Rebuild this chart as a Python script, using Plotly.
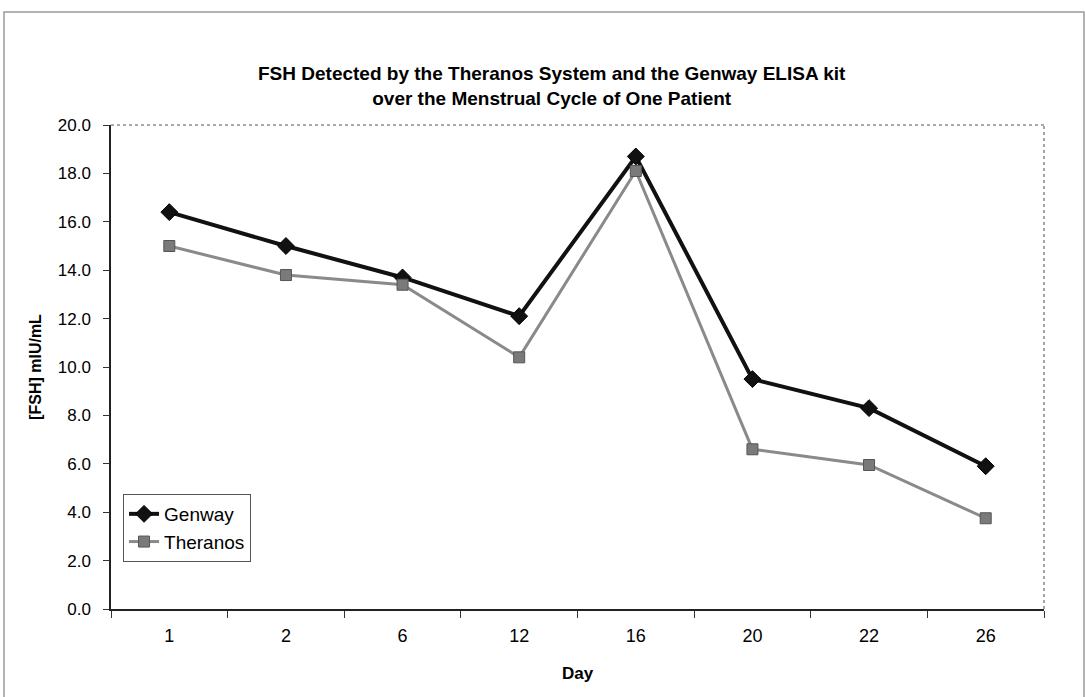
import plotly.graph_objects as go

days = ["1", "2", "6", "12", "16", "20", "22", "26"]
genway = [16.4, 15.0, 13.7, 12.1, 18.7, 9.5, 8.3, 5.9]
theranos = [15.0, 13.8, 13.4, 10.4, 18.1, 6.6, 5.95, 3.75]
y_ticks = [0, 2, 4, 6, 8, 10, 12, 14, 16, 18, 20]

FONT = "Liberation Sans, Arial, sans-serif"

fig = go.Figure()
fig.add_trace(go.Scatter(
    x=days, y=genway, name="Genway", mode="lines+markers",
    line=dict(color="#111111", width=4),
    marker=dict(symbol="diamond", size=13, color="#111111", line=dict(color="#000000", width=1)),
))
fig.add_trace(go.Scatter(
    x=days, y=theranos, name="Theranos", mode="lines+markers",
    line=dict(color="#8a8a8a", width=3),
    marker=dict(symbol="square", size=11, color="#7a7a7a", line=dict(color="#555555", width=1)),
))

fig.update_layout(
    width=1085, height=697,
    margin=dict(l=111, r=41, t=125, b=88),
    paper_bgcolor="white", plot_bgcolor="white",
    font=dict(family=FONT, size=17, color="#000000"),
    showlegend=True,
    legend=dict(x=0.0129, y=0.2376, xanchor="left", yanchor="top",
                bgcolor="white", bordercolor="#555555", borderwidth=1,
                font=dict(size=19), itemwidth=30),
    xaxis=dict(
        type="category", range=[-0.5, 7.5], tickson="boundaries",
        ticks="outside", ticklen=7, tickcolor="#333333",
        showline=True, linecolor="#222222", linewidth=1.5,
        showgrid=False, zeroline=False,
        tickfont=dict(size=18), ticklabelstandoff=10,
        title=dict(text="<b>Day</b>", font=dict(size=17), standoff=22),
    ),
    yaxis=dict(
        range=[0, 20], tickvals=y_ticks,
        ticktext=[f"{v:.1f}" for v in y_ticks],
        ticks="outside", ticklen=6, tickcolor="#333333",
        showline=True, linecolor="#222222", linewidth=1.5,
        showgrid=False, zeroline=False,
        tickfont=dict(size=17), ticklabelstandoff=9,
        title=dict(text="<b>[FSH] mIU/mL</b>", font=dict(size=16), standoff=12),
    ),
)

# Title
fig.add_annotation(
    xref="paper", yref="paper", x=0.4727, y=(609 - 86) / 484,
    text="<b>FSH Detected by the Theranos System and the Genway ELISA kit<br>over the Menstrual Cycle of One Patient</b>",
    showarrow=False, font=dict(size=19, family=FONT), align="center",
    xanchor="center", yanchor="middle",
)

# Plot area top/right dotted border
fig.add_shape(type="line", xref="paper", yref="paper", x0=0, x1=1, y0=1, y1=1,
              line=dict(color="#555555", width=1, dash="dot"))
fig.add_shape(type="line", xref="paper", yref="paper", x0=1, x1=1, y0=0, y1=1,
              line=dict(color="#888888", width=1.5, dash="dot"))

# Outer chart frame
fig.add_shape(type="rect", xref="paper", yref="paper",
              x0=-107 / 933, x1=973 / 933, y0=-100 / 484, y1=597 / 484,
              line=dict(color="#999999", width=1.5), layer="below")

fig.write_html("out.html")
